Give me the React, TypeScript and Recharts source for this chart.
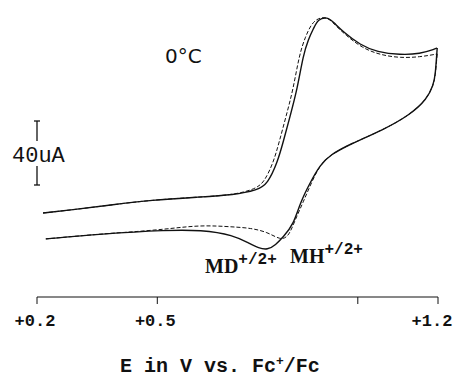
// CV trace at 0°C — MH vs MD, drawn with recharts lines over one numeric E axis.
import { Line, LineChart, XAxis, YAxis } from "recharts";

// potential (V vs Fc+/Fc) and current (uA, arbitrary offset)
const SOLID_FWD_E = [0.215, 0.285, 0.384, 0.484, 0.608, 0.69, 0.75, 0.775, 0.8, 0.814, 0.832, 0.849, 0.864, 0.877, 0.889, 0.901, 0.924, 0.939, 0.964, 1.006, 1.048, 1.106, 1.155, 1.193, 1.198];
const SOLID_FWD_I = [52.5, 54.4, 57.5, 60.6, 62.5, 63.8, 66.9, 70.6, 84.4, 96.9, 113.8, 130, 151.3, 161.3, 167.5, 173.8, 175, 171.9, 165.6, 157.5, 153.1, 151.3, 151.9, 155, 155.6];
const SOLID_REV_E = [1.198, 1.193, 1.188, 1.173, 1.13, 1.063, 0.981, 0.931, 0.906, 0.882, 0.857, 0.839, 0.814, 0.795, 0.775, 0.752, 0.732, 0.69, 0.608, 0.526, 0.359, 0.222];
const SOLID_REV_I = [155.6, 137.5, 132.5, 123.8, 113.8, 104.4, 95.6, 88.8, 82.5, 71.9, 59.4, 45, 37.5, 32.5, 29.4, 30.6, 33.1, 38.8, 41.9, 41.9, 39.4, 36.3];
const DASH_FWD_E = [0.215, 0.285, 0.384, 0.484, 0.608, 0.69, 0.745, 0.767, 0.79, 0.804, 0.822, 0.839, 0.854, 0.869, 0.884, 0.901, 0.924, 0.941, 0.969, 1.011, 1.056, 1.106, 1.155, 1.198];
const DASH_FWD_I = [52.5, 54.4, 57.5, 60.6, 62.5, 63.8, 67.5, 71.9, 84.4, 96.9, 113.8, 130, 151.3, 162.5, 170.6, 174.4, 175, 170.6, 163.8, 155.6, 151.3, 149.4, 150, 151.9];
const DASH_REV_E = [1.198, 1.193, 1.188, 1.173, 1.13, 1.063, 0.981, 0.931, 0.906, 0.885, 0.864, 0.847, 0.834, 0.824, 0.807, 0.775, 0.732, 0.69, 0.608, 0.526, 0.434, 0.359, 0.222];
const DASH_REV_I = [151.9, 137.5, 132.5, 123.8, 113.8, 104.4, 95.6, 88.8, 82.5, 71.9, 59.4, 50, 41.9, 37.5, 35.6, 40.6, 43.1, 43.8, 45, 42.5, 40.6, 39.4, 36.3];

const E_TICKS = [0.2, 0.5, 1.0, 1.2];
const E_LABELS = ["+0.2", "+0.5", "", "+1.2"];

const zip = (e: number[], i: number[]) => e.map((x, k) => ({ e: x, i: i[k] }));

const mono = "'Liberation Mono', 'DejaVu Sans Mono', monospace";
const serif = "'Liberation Serif', 'DejaVu Serif', serif";

function ETick(props: any) {
  const { x, y, payload } = props;
  const k = E_TICKS.indexOf(payload.value);
  const shift = k === E_TICKS.length - 1 ? -6 : -2;
  return (
    <text x={x + shift} y={y + 20} textAnchor="middle" fill="#111"
      fontFamily={mono} fontWeight={700} fontSize={17}>{E_LABELS[k] ?? ""}</text>
  );
}

export default function App() {
  const lines = [
    { key: "sf", data: zip(SOLID_FWD_E, SOLID_FWD_I), dash: undefined, w: 1.4 },
    { key: "sr", data: zip(SOLID_REV_E, SOLID_REV_I), dash: undefined, w: 1.4 },
    { key: "df", data: zip(DASH_FWD_E, DASH_FWD_I), dash: "4 2", w: 1 },
    { key: "dr", data: zip(DASH_REV_E, DASH_REV_I), dash: "4 2", w: 1 },
  ];

  return (
    <div style={{ position: "absolute", left: 0, top: 0, width: 455, height: 378, background: "#fff" }}>
      <LineChart width={455} height={378} margin={{ top: 9, right: 17, bottom: 51, left: 37 }}>
        <XAxis
          dataKey="e"
          type="number"
          domain={[0.2, 1.2]}
          ticks={E_TICKS}
          tick={<ETick />}
          tickSize={7}
          stroke="#111"
          allowDuplicatedCategory={false}
        />
        <YAxis hide type="number" domain={[0, 180]} />
        {lines.map((l) => (
          <Line
            key={l.key}
            data={l.data}
            dataKey="i"
            type="basis"
            stroke="#111"
            strokeWidth={l.w}
            strokeDasharray={l.dash}
            dot={false}
            isAnimationActive={false}
          />
        ))}
      </LineChart>
      <svg width={455} height={378} style={{ position: "absolute", left: 0, top: 0, pointerEvents: "none" }}>
        <g stroke="#111" strokeWidth={1.3}>
          <line x1={37} y1={121} x2={37} y2={141} />
          <line x1={37} y1={166} x2={37} y2={185} />
          <line x1={34} y1={121} x2={40} y2={121} />
          <line x1={34} y1={185} x2={40} y2={185} />
        </g>
        <text x={12} y={162} fontFamily={mono} fontSize={22} fill="#111">40uA</text>
        <text x={165} y={63} fontFamily="'DejaVu Sans', sans-serif" fontSize={20} fill="#111">0°C</text>
        <text x={205} y={273} fontFamily={serif} fontWeight={700} fontSize={20} fill="#111">
          MD<tspan dy={-9} fontSize={16} fontFamily={mono}>+/2+</tspan>
        </text>
        <text x={290} y={263} fontFamily={serif} fontWeight={700} fontSize={20} fill="#111">
          MH<tspan dy={-9} fontSize={16} fontFamily={mono}>+/2+</tspan>
        </text>
        <text x={120} y={372} fontFamily={mono} fontWeight={700} fontSize={20} fill="#111">
          E in V vs. Fc<tspan dy={-7} fontSize={13}>+</tspan><tspan dy={7}>/Fc</tspan>
        </text>
      </svg>
    </div>
  );
}
